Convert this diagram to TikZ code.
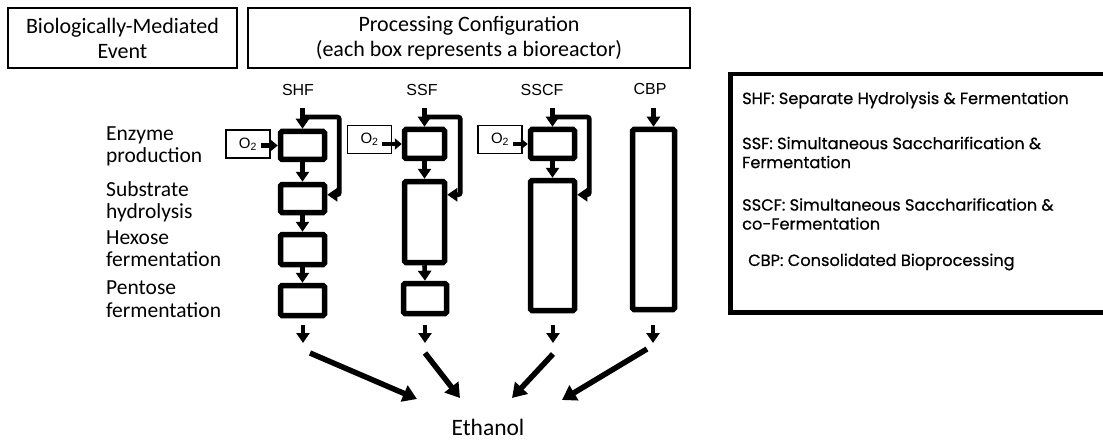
\documentclass[tikz,border=0pt]{standalone}
\usepackage{fontspec}
\setmainfont{Carlito}
\newfontfamily\labelfont{Liberation Sans}
\newfontfamily\legendfont[FakeBold=0.6]{Poppins}
\usetikzlibrary{arrows.meta,calc}

\begin{document}
\begin{tikzpicture}[x=1pt,y=-1pt,
  header/.style={draw, line width=2pt, align=center, inner sep=0,
    font=\fontsize{22}{25}\selectfont},
  reactor/.style={draw, line width=5.5pt, rounded corners=1.5pt, inner sep=0},
  obox/.style={draw, line width=1.8pt, inner sep=0, minimum width=44,
    minimum height=28, font=\labelfont\fontsize{15}{15}\selectfont},
  pipe/.style={line width=4.6pt, rounded corners=2pt},
  flow/.style={pipe, -{Triangle[width=13pt,length=10pt]}},
  oflow/.style={line width=4.6pt, -{Triangle[width=11pt,length=7pt]}},
  big/.style={line width=5.5pt, -{Triangle[width=17pt,length=14pt]}},
  cfg/.style={font=\labelfont\fontsize{16}{16}\selectfont, inner sep=0},
  evlabel/.style={anchor=west, align=left, inner sep=0,
    font=\fontsize{21.5}{22.5}\selectfont},
  keytext/.style={anchor=west, align=left, inner sep=0,
    font=\legendfont\fontsize{16.2}{19}\selectfont}
]
\path[use as bounding box, fill=white] (0,0) rectangle (1103,441);

% column headings
\node[header, minimum width=229, minimum height=60] (bio) at (122.5,38)
  {Biologically-Mediated\\Event};
\node[header, minimum width=442, minimum height=60] (proc) at (469,38)
  {Processing Configuration\\(each box represents a bioreactor)};

% biological events
\node[evlabel] (enz) at (106,146.5) {Enzyme\\production};
\node[evlabel] (hyd) at (106,202) {Substrate\\hydrolysis};
\node[evlabel] (hex) at (106,248.5) {Hexose\\fermentation};
\node[evlabel] (pen) at (106,299) {Pentose\\fermentation};

% configuration names
\node[cfg] (lshf) at (298,90) {SHF};
\node[cfg] (lssf) at (422,90) {SSF};
\node[cfg] (lsscf) at (542,90) {SSCF};
\node[cfg] (lcbp) at (650,89) {CBP};

% ---- SHF: four separate reactors
\node[reactor, minimum width=44, minimum height=28] (shf1) at (302.5,145.5) {};
\node[reactor, minimum width=44, minimum height=28] (shf2) at (302.5,198.5) {};
\node[reactor, minimum width=44, minimum height=30] (shf3) at (302.5,249.5) {};
\node[reactor, minimum width=44, minimum height=30] (shf4) at (302.5,300.5) {};
\node[obox] (o2shf) at (248,144) {O\textsubscript{2}\hspace{12pt}};
\coordinate (shfin) at (302.5,108);
\coordinate (shfj) at (302.5,117);
\draw[flow] (shfin) -- (shf1);
\draw[flow] (shfj) -| ($(shf2.north east)+(12,13)$) -- ($(shf2.north east)+(0,13)$);
\draw[oflow] ($(o2shf.east |- shf1.west)+(-10,0)$) -- (shf1.west);
\draw[flow] (shf1) -- (shf2);
\draw[flow] (shf2) -- (shf3);
\draw[flow] (shf3) -- (shf4);

% ---- SSF
\node[reactor, minimum width=40, minimum height=29] (ssf1) at (424.5,144) {};
\node[reactor, minimum width=40, minimum height=81] (ssf2) at (424.5,222) {};
\node[reactor, minimum width=43, minimum height=30] (ssf3) at (425,298.5) {};
\node[obox] (o2ssf) at (369.5,139.5) {O\textsubscript{2}\hspace{12pt}};
\coordinate (ssfin) at (424.5,108);
\coordinate (ssfj) at (424.5,117);
\draw[flow] (ssfin) -- (ssf1);
\draw[flow] (ssfj) -| ($(ssf2.north east)+(13,16)$) -- ($(ssf2.north east)+(0,16)$);
\draw[oflow] ($(o2ssf.east |- ssf1.west)+(-10,0)$) -- (ssf1.west);
\draw[flow] (ssf1) -- (ssf2);
\draw[flow] (ssf2.south) -- (ssf3.north);

% ---- SSCF
\node[reactor, minimum width=44, minimum height=29] (sscf1) at (552.5,144) {};
\node[reactor, minimum width=44, minimum height=130] (sscf2) at (552.5,245.5) {};
\node[obox] (o2sscf) at (500,139.5) {O\textsubscript{2}\hspace{12pt}};
\coordinate (sscfin) at (552.5,108);
\coordinate (sscfj) at (552.5,117);
\draw[flow] (sscfin) -- (sscf1);
\draw[flow] (sscfj) -| ($(sscf2.north east)+(12,17)$) -- ($(sscf2.north east)+(0,17)$);
\draw[oflow] ($(o2sscf.east |- sscf1.west)+(-10,0)$) -- (sscf1.west);
\draw[flow] (sscf1) -- (sscf2);

% ---- CBP: a single reactor
\node[reactor, minimum width=42, minimum height=180] (cbp) at (653.5,219.5) {};
\coordinate (cbpin) at (653.5,108);
\draw[flow] (cbpin) -- (cbp);

% outlets
\coordinate (shfo) at (303,325);  \coordinate (shfe) at (303,343);
\coordinate (ssfo) at (425,325);  \coordinate (ssfe) at (425,343);
\coordinate (sscfo) at (553,325); \coordinate (sscfe) at (553,343);
\coordinate (cbpo) at (653,325);  \coordinate (cbpe) at (653,343);
\draw[flow] (shfo) -- (shfe);
\draw[flow] (ssfo) -- (ssfe);
\draw[flow] (sscfo) -- (sscfe);
\draw[flow] (cbpo) -- (cbpe);

% everything leads to ethanol
\node[font=\fontsize{23.5}{23.5}\selectfont] (eth) at (488,427) {Ethanol};
\coordinate (d1s) at (310,353); \coordinate (d1e) at (417,399);
\coordinate (d2s) at (425,353); \coordinate (d2e) at (460,398);
\coordinate (d3s) at (553,354); \coordinate (d3e) at (512,398);
\coordinate (d4s) at (647,349); \coordinate (d4e) at (562,400);
\draw[big] (d1s) -- (d1e);
\draw[big] (d2s) -- (d2e);
\draw[big] (d3s) -- (d3e);
\draw[big] (d4s) -- (d4e);

% key to the abbreviations
\node[draw, line width=4.5pt, minimum width=392, minimum height=238,
  anchor=north west, inner sep=0] (key) at (728,72) {};
\node[keytext] (kshf) at (742,100) {SHF: Separate Hydrolysis \& Fermentation};
\node[keytext] (kssf) at (742,152.5) {SSF: Simultaneous Saccharification \&\\Fermentation};
\node[keytext] (ksscf) at (742,214) {SSCF: Simultaneous Saccharification \&\\co-Fermentation};
\node[keytext] (kcbp) at (748,262) {CBP: Consolidated Bioprocessing};
\end{tikzpicture}
\end{document}
